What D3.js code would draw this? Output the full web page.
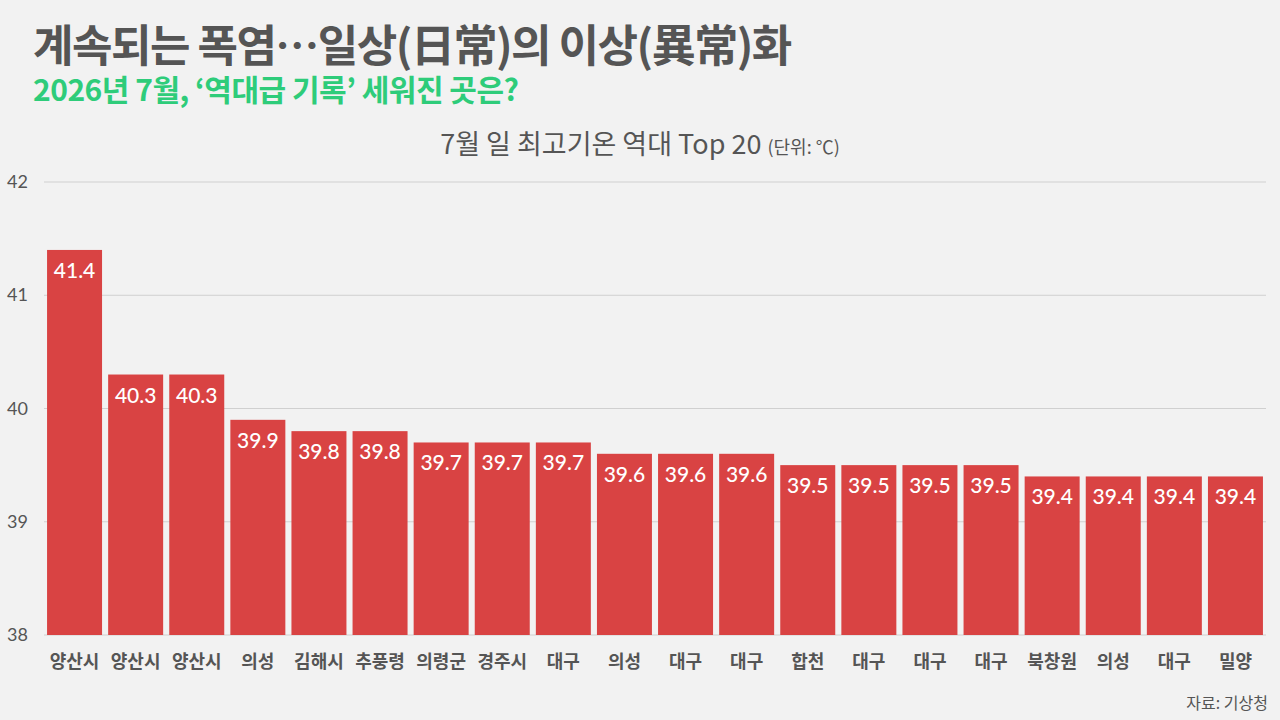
<!DOCTYPE html>
<html>
<head>
<meta charset="utf-8">
<script src="https://cdn.jsdelivr.net/npm/d3@7"></script>
<style>
  body { margin: 0; background: #f2f2f2; }
  svg { display: block; }
</style>
</head>
<body>
<svg id="chart" width="1280" height="720"></svg>
<script>
    // chart data
    const stations = ["양산시", "양산시", "양산시", "의성", "김해시", "추풍령", "의령군", "경주시", "대구", "의성",
                      "대구", "대구", "합천", "대구", "대구", "대구", "북창원", "의성", "대구", "밀양"];
    const temps = [41.4, 40.3, 40.3, 39.9, 39.8, 39.8, 39.7, 39.7, 39.7, 39.6,
                   39.6, 39.6, 39.5, 39.5, 39.5, 39.5, 39.4, 39.4, 39.4, 39.4];
    const yTicks = [38, 39, 40, 41, 42];

    const W = 1280, H = 720;
    const margin = { left: 44, right: 14, top: 182, bottom: 85 };
    const KR = "'Noto Sans CJK KR', 'Noto Sans', sans-serif";
    const NUM = "Lato, 'Noto Sans', sans-serif";

    const svg = d3.select("#chart");
    svg.append("rect").attr("width", W).attr("height", H).attr("fill", "#f2f2f2");

    const x = d3.scaleBand()
        .domain(d3.range(stations.length))
        .range([margin.left, W - margin.right])
        .paddingInner(0.1)
        .paddingOuter(0.05);

    const y = d3.scaleLinear()
        .domain([38, 42])
        .range([H - margin.bottom, margin.top]);

    // gridlines
    svg.append("g")
        .selectAll("line")
        .data(yTicks)
        .join("line")
        .attr("x1", margin.left)
        .attr("x2", W - margin.right)
        .attr("y1", d => y(d))
        .attr("y2", d => y(d))
        .attr("stroke", "#d0d0d0")
        .attr("stroke-width", 1);

    // y labels
    svg.append("g")
        .selectAll("text")
        .data(yTicks)
        .join("text")
        .attr("x", 28)
        .attr("y", d => y(d) + 6)
        .attr("text-anchor", "end")
        .attr("fill", "#555")
        .style("font", `18px ${NUM}`)
        .text(d => d);

    // bars
    svg.append("g")
        .selectAll("rect")
        .data(temps)
        .join("rect")
        .attr("x", (d, i) => x(i))
        .attr("y", d => y(d))
        .attr("width", x.bandwidth())
        .attr("height", d => y(38) - y(d))
        .attr("fill", "#d94343");

    // value labels
    svg.append("g")
        .selectAll("text")
        .data(temps)
        .join("text")
        .attr("x", (d, i) => x(i) + x.bandwidth() / 2)
        .attr("y", d => y(d) + 28)
        .attr("text-anchor", "middle")
        .attr("fill", "#fff")
        .style("font", `500 21px ${NUM}`)
        .text(d => d.toFixed(1));

    // category labels
    svg.append("g")
        .selectAll("text")
        .data(stations)
        .join("text")
        .attr("x", (d, i) => x(i) + x.bandwidth() / 2)
        .attr("y", 668)
        .attr("text-anchor", "middle")
        .attr("fill", "#555")
        .style("font", `bold 18px ${KR}`)
        .text(d => d);

    // titles
    svg.append("text")
        .attr("x", 33).attr("y", 62)
        .attr("fill", "#555")
        .style("font", `bold 44px ${KR}`)
        .style("letter-spacing", "-1.5px")
        .text("계속되는 폭염…일상(日常)의 이상(異常)화");

    svg.append("text")
        .attr("x", 33).attr("y", 101)
        .attr("fill", "#2ecc7a")
        .style("font", `bold 30px ${KR}`)
        .style("letter-spacing", "-0.5px")
        .text("2026년 7월, ‘역대급 기록’ 세워진 곳은?");

    const sub = svg.append("text")
        .attr("x", 640).attr("y", 154)
        .attr("text-anchor", "middle")
        .attr("fill", "#555")
        .style("font", `27px ${KR}`);
    sub.append("tspan").text("7월 일 최고기온 역대 Top 20 ");
    sub.append("tspan").style("font-size", "18px").text("(단위: ℃)");

    svg.append("text")
        .attr("x", 1268).attr("y", 709)
        .attr("text-anchor", "end")
        .attr("fill", "#555")
        .style("font", `16px ${KR}`)
        .text("자료: 기상청");
</script>
</body>
</html>
